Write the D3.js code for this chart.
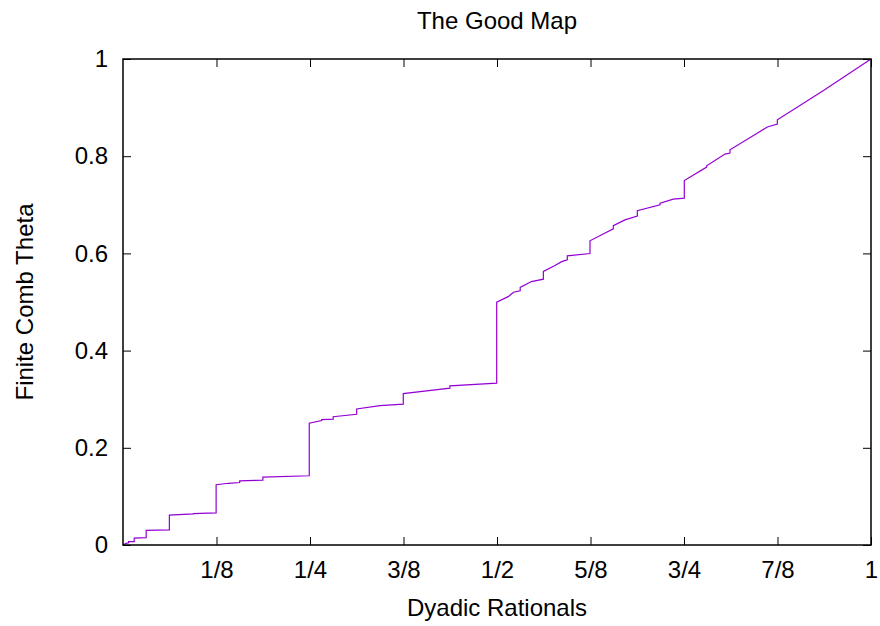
<!DOCTYPE html>
<html>
<head>
<meta charset="utf-8">
<script src="https://cdn.jsdelivr.net/npm/d3@7"></script>
<style>
  body { margin: 0; background: #fff; }
  text { font-family: "Liberation Sans", Arial, Helvetica, sans-serif; fill: #000; }
</style>
</head>
<body>
<div id="chart"></div>
<script>
// values, jumps are two points with the same x
var goodX = [0, 0.004, 0.0075, 0.0075, 0.015, 0.015, 0.031, 0.031, 0.062, 0.062,
  0.094, 0.094, 0.1245, 0.1245, 0.141, 0.156, 0.156, 0.187, 0.187, 0.249, 0.249,
  0.2656, 0.2656, 0.281, 0.281, 0.3124, 0.3124, 0.3436, 0.3747, 0.3747, 0.406,
  0.437, 0.437, 0.4996, 0.4996, 0.515, 0.522, 0.531, 0.531, 0.546, 0.562, 0.562,
  0.5775, 0.5865, 0.594, 0.594, 0.6243, 0.6243, 0.642, 0.6555, 0.6555, 0.671,
  0.6876, 0.6876, 0.718, 0.718, 0.7357, 0.7504, 0.7504, 0.7803, 0.7803, 0.8048,
  0.8115, 0.8115, 0.8516, 0.8614, 0.8748, 0.8748, 0.936, 1];
var goodY = [0, 0.0035, 0.0045, 0.0068, 0.007, 0.014, 0.015, 0.03, 0.031, 0.0615,
  0.064, 0.0645, 0.066, 0.124, 0.127, 0.1285, 0.1318, 0.1335, 0.1395, 0.1425, 0.2505,
  0.256, 0.258, 0.259, 0.264, 0.269, 0.28, 0.2868, 0.2897, 0.3115, 0.317,
  0.3226, 0.3274, 0.333, 0.4997, 0.511, 0.52, 0.523, 0.53, 0.542, 0.547, 0.563,
  0.575, 0.583, 0.5868, 0.595, 0.5998, 0.6259, 0.64, 0.6506, 0.657, 0.669,
  0.677, 0.6877, 0.7, 0.7035, 0.7118, 0.7138, 0.75, 0.7776, 0.7803, 0.8044,
  0.8065, 0.8133, 0.851, 0.86, 0.8662, 0.875, 0.9347, 1];

var xTickValues = [1/8, 1/4, 3/8, 1/2, 5/8, 3/4, 7/8, 1];
var xTickLabels = ["1/8", "1/4", "3/8", "1/2", "5/8", "3/4", "7/8", "1"];
var yTickValues = [0, 0.2, 0.4, 0.6, 0.8, 1];
var yTickLabels = ["0", "0.2", "0.4", "0.6", "0.8", "1"];

var width = 880, height = 626;
var margin = {top: 59, right: 9, bottom: 81, left: 123};
var plotW = width - margin.left - margin.right;
var plotH = height - margin.top - margin.bottom;

var svg = d3.select("#chart")
    .append("svg")
    .attr("width", width)
    .attr("height", height)

var x = d3.scaleLinear().domain([0, 1]).range([0, plotW]);
var y = d3.scaleLinear().domain([0, 1]).range([plotH, 0]);

var g = svg.append("g")
    .attr("transform", "translate(" + margin.left + "," + margin.top + ")")

// ticks (inward, mirrored like gnuplot)
function styleAxis(sel) {
  sel.select(".domain").remove();
  sel.selectAll("line").attr("stroke", "#000").attr("stroke-width", 1);
  sel.selectAll("text").attr("font-size", 24).style("font-family", null);
}

g.append("g")
    .attr("transform", "translate(0," + plotH + ")")
    .call(d3.axisBottom(x).tickValues(xTickValues)
        .tickFormat(function(d, i) { return xTickLabels[i]; })
        .tickSizeInner(-8).tickSizeOuter(0).tickPadding(16))
    .call(styleAxis)

g.append("g")
    .call(d3.axisTop(x).tickValues(xTickValues).tickFormat("")
        .tickSizeInner(-8).tickSizeOuter(0))
    .call(styleAxis)

g.append("g")
    .call(d3.axisLeft(y).tickValues(yTickValues)
        .tickFormat(function(d, i) { return yTickLabels[i]; })
        .tickSizeInner(-8).tickSizeOuter(0).tickPadding(15))
    .call(styleAxis)

g.append("g")
    .attr("transform", "translate(" + plotW + ",0)")
    .call(d3.axisRight(y).tickValues(yTickValues).tickFormat("")
        .tickSizeInner(-8).tickSizeOuter(0))
    .call(styleAxis)

// the curve
var pts = goodX.map(function(d, i) { return [d, goodY[i]]; });
var line = d3.line()
    .x(function(d) { return x(d[0]); })
    .y(function(d) { return y(d[1]); })

g.append("path")
    .datum(pts)
    .attr("d", line)
    .attr("fill", "none")
    .attr("stroke", "#9400d3")
    .attr("stroke-width", 1.2)

// frame
g.append("rect")
    .attr("width", plotW)
    .attr("height", plotH)
    .attr("fill", "none")
    .attr("stroke", "#000")
    .attr("stroke-width", 1.5)

svg.append("text")
    .attr("x", margin.left + plotW / 2)
    .attr("y", 29)
    .attr("text-anchor", "middle")
    .attr("font-size", 24)
    .text("The Good Map")

svg.append("text")
    .attr("x", margin.left + plotW / 2)
    .attr("y", 616)
    .attr("text-anchor", "middle")
    .attr("font-size", 24)
    .text("Dyadic Rationals")

svg.append("text")
    .attr("transform", "translate(33," + (margin.top + plotH / 2) + ") rotate(-90)")
    .attr("text-anchor", "middle")
    .attr("font-size", 24)
    .text("Finite Comb Theta")
</script>
</body>
</html>
